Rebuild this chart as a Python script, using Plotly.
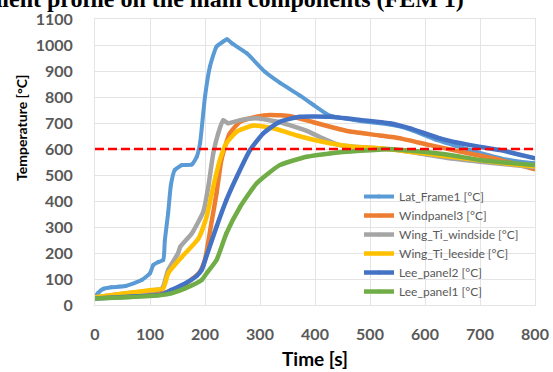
import plotly.graph_objects as go

# ---------------- data ----------------
lat_t = [0, 5, 15, 30, 55, 85, 100, 106, 115, 124, 127, 133, 138, 145, 158, 176, 185, 191, 200, 209, 221, 233, 240, 250, 276, 309, 336, 373, 397, 427, 482, 536, 567, 621, 682, 736, 773, 800]
lat_T = [30, 45, 62, 68, 73, 96, 122, 154, 165, 173, 250, 354, 462, 519, 538, 540, 570, 622, 801, 917, 994, 1013, 1022, 1005, 968, 897, 855, 805, 770, 728, 708, 694, 679, 635, 596, 565, 551, 545]

wind_t = [0, 60, 120, 139, 164, 190, 200, 212, 221, 230, 245, 264, 294, 318, 355, 397, 445, 464, 518, 555, 609, 664, 736, 800]
wind_T = [28, 35, 45, 55, 80, 125, 175, 320, 430, 560, 660, 705, 724, 731, 726, 703, 676, 667, 652, 641, 615, 590, 558, 522]

wts_t = [0, 60, 120, 124, 133, 151, 155, 176, 197, 206, 215, 224, 233, 242, 264, 294, 336, 385, 415, 445, 494, 536, 591, 645, 700, 800]
wts_T = [30, 45, 62, 71, 135, 199, 224, 275, 360, 455, 583, 660, 711, 699, 711, 718, 703, 670, 640, 615, 606, 600, 583, 564, 551, 530]

wtl_t = [0, 55, 103, 124, 133, 158, 188, 203, 215, 227, 239, 258, 288, 324, 367, 427, 470, 518, 621, 773, 800]
wtl_T = [30, 45, 58, 64, 122, 185, 255, 340, 455, 558, 622, 667, 690, 680, 652, 622, 609, 603, 577, 538, 533]

lp2_t = [0, 60, 120, 139, 164, 185, 194, 203, 221, 239, 258, 282, 306, 336, 373, 427, 482, 536, 573, 627, 682, 736, 800]
lp2_T = [25, 32, 40, 58, 83, 112, 135, 190, 301, 404, 494, 596, 660, 705, 724, 724, 712, 699, 679, 641, 615, 596, 564]

lp1_t = [0, 60, 120, 139, 164, 194, 203, 221, 239, 264, 294, 336, 385, 427, 482, 536, 591, 645, 700, 800]
lp1_T = [25, 30, 38, 45, 64, 96, 122, 173, 276, 378, 468, 538, 570, 583, 593, 599, 590, 577, 558, 538]

series_names = ["Lat_Frame1 [°C]", "Windpanel3 [°C]", "Wing_Ti_windside [°C]",
                "Wing_Ti_leeside [°C]", "Lee_panel2 [°C]", "Lee_panel1 [°C]"]
series_colors = ["#5B9BD5", "#ED7D31", "#A5A5A5", "#FFC000", "#4472C4", "#70AD47"]
threshold = 600

x_ticks = [0, 100, 200, 300, 400, 500, 600, 700, 800]
y_ticks = [0, 100, 200, 300, 400, 500, 600, 700, 800, 900, 1000, 1100]

# ---------------- figure ----------------
data = [(lat_t, lat_T), (wind_t, wind_T), (wts_t, wts_T), (wtl_t, wtl_T), (lp2_t, lp2_T), (lp1_t, lp1_T)]
fig = go.Figure()
for (t, T), name, col in zip(data, series_names, series_colors):
    fig.add_trace(go.Scatter(
        x=t, y=T, name=name, mode="lines+markers",
        line=dict(color=col, width=4 if name.startswith("Lat") else 4.5, shape="spline", smoothing=0.5),
        marker=dict(color=col, size=4),
    ))

fig.add_shape(type="line", xref="paper", x0=0, x1=1, yref="y", y0=threshold, y1=threshold,
              line=dict(color="#FF0000", width=2.5, dash="9px,4px"))

grid = "#E4E4E4"
fig.update_layout(
    width=553, height=372,
    margin=dict(l=95, r=18, t=19, b=67, autoexpand=False),
    paper_bgcolor="white", plot_bgcolor="white",
    font=dict(family="Lato", color="#595959"),
    showlegend=True,
    legend=dict(x=0.6, y=0.43, xanchor="left", yanchor="top",
                bgcolor="rgba(0,0,0,0)", font=dict(family="Lato", size=12, color="#595959"),
                tracegroupgap=0, itemwidth=30),
    annotations=[
        dict(text="<b>Temperature gradient profile on the main components (FEM 1)</b>",
             xref="paper", yref="paper", x=0.843, y=1.0175, xanchor="right", yanchor="bottom",
             showarrow=False, font=dict(family="Liberation Serif", size=24, color="#000000")),
        dict(text="<b>Temperature [°C]</b>", textangle=-90,
             xref="paper", yref="paper", x=-0.166, y=0.619, xanchor="center", yanchor="middle",
             showarrow=False, font=dict(family="Lato", size=14, color="#000000")),
    ],
)
fig.update_xaxes(
    range=[0, 800], tickvals=x_ticks, ticktext=[str(v) for v in x_ticks],
    showgrid=True, gridcolor=grid, gridwidth=1, zeroline=False,
    showline=True, linecolor=grid, mirror=True, automargin=False,
    ticks="", ticklabelstandoff=15,
    tickfont=dict(family="Lato", size=16, color="#595959", weight="bold"),
    title=dict(text="<b>Time [s]</b>", font=dict(family="Lato", size=19, color="#000000"), standoff=10),
)
fig.update_yaxes(
    range=[0, 1100], tickvals=y_ticks, ticktext=[str(v) for v in y_ticks],
    showgrid=True, gridcolor=grid, gridwidth=1, zeroline=False,
    showline=True, linecolor=grid, mirror=True, automargin=False,
    ticks="", ticklabelstandoff=18,
    tickfont=dict(family="Lato", size=16, color="#595959", weight="bold"),
)

fig.write_html("out.html")
